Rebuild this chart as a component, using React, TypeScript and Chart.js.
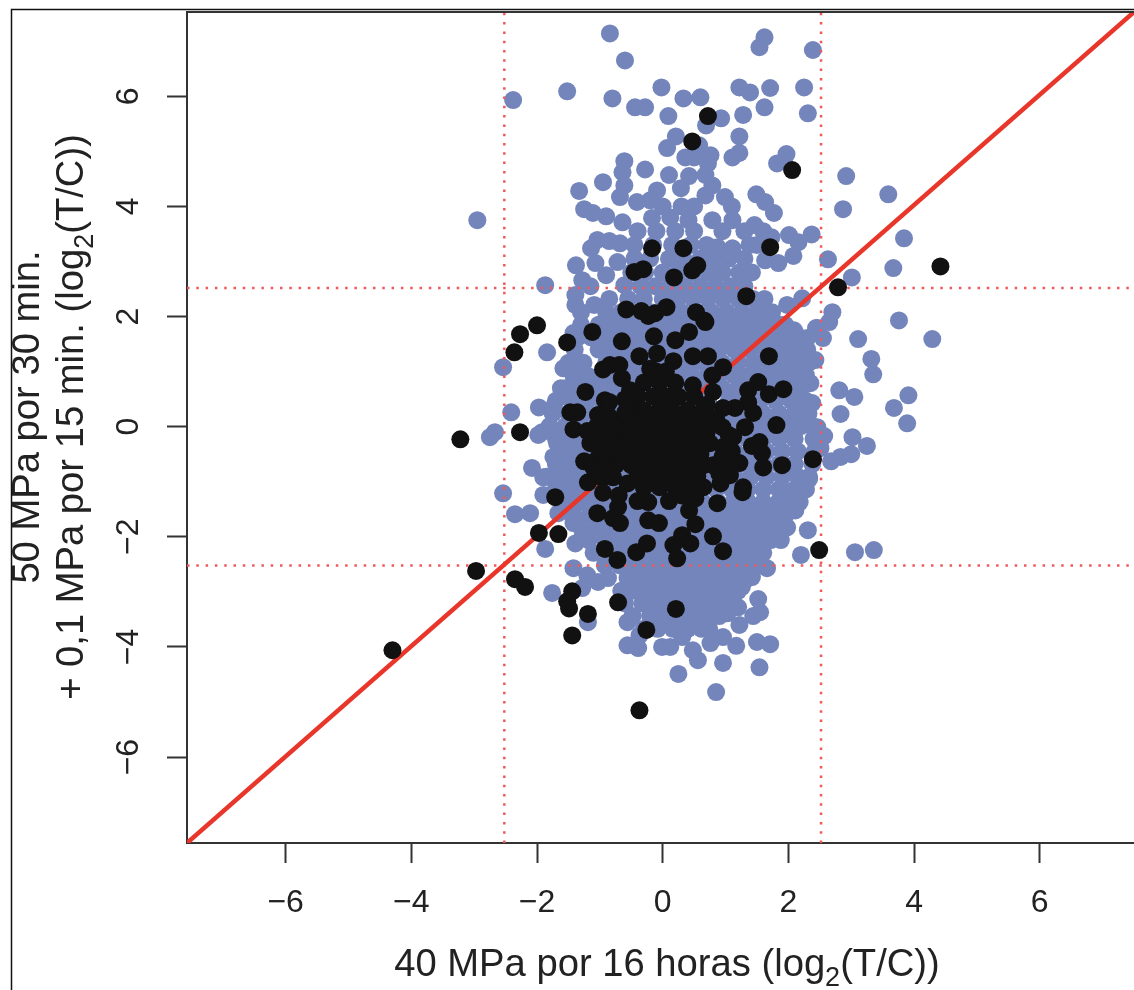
import React, { useEffect, useRef } from "react";
import { Chart, registerables } from "chart.js";

Chart.register(...registerables);

const xTickValues = [-6, -4, -2, 0, 2, 4, 6];
const yTickValues = [-6, -4, -2, 0, 2, 4, 6];
const xLimits = [-7.57, 7.5];
const yLimits = [-7.56, 7.53];
const cutoffLow = -2.52;
const cutoffHigh = 2.52;
const xTitleParts = ["40 MPa por 16 horas (log", "2", "(T/C))"];
const yTitleLine1 = ["50 MPa por 30 min."];
const yTitleLine2 = ["+ 0,1 MPa por 15 min. (log", "2", "(T/C))"];

// Blue genes: individually read points around the cloud
const blueScattered: [number, number][] = [
  [-0.84,7.14],[-0.6,6.65],[1.54,6.89],[1.62,7.07],[2.39,6.84],[-2.38,5.93],[-1.52,6.09],[-0.8,5.96],[-0.44,5.8],[-0.28,5.8],
  [-0.02,6.16],[0.33,5.96],[0.6,5.98],[0.09,5.64],[0.69,5.47],[0.93,5.6],[1.28,5.66],[1.62,5.8],[1.22,6.16],[1.39,6.07],
  [1.71,6.15],[2.25,6.16],[2.31,5.69],[0.21,5.27],[0.07,5.06],[0.58,5.11],[0.36,4.89],[0.5,4.89],[0.76,4.93],[0.72,4.78],
  [1.22,5.27],[1.22,4.97],[1.11,4.89],[1.97,4.95],[1.82,4.78],[-0.61,4.82],[-0.64,4.62],[-0.61,4.38],[-0.68,4.17],[-0.28,4.67],
  [-0.95,4.44],[-1.33,4.28],[0.1,4.57],[0.42,4.55],[0.68,4.57],[0.79,4.38],[-0.09,4.29],[0.29,4.33],[0.68,4.2],[0.99,4.17],
  [1.49,4.22],[1.63,4.08],[1.77,3.88],[-1.25,3.95],[-1.11,3.88],[-0.9,3.82],[-0.64,3.71],[-0.41,4.08],[-0.2,4.11],[-0.17,3.79],
  [0.12,3.8],[0.41,3.75],[0.79,3.75],[1.11,3.75],[1.46,3.66],[2.92,4.55],[3.59,4.22],[2.87,3.95],[3.84,3.42],[3.67,2.88],
  [3.01,2.71],[2.63,3.04],[2.37,3.49],[2.01,3.48],[2.16,3.35],[2.08,3.1],[1.84,2.97],[1.63,3.02],[1.73,3.44],[1.38,3.3],
  [0.87,3.26],[1.11,3.24],[-1.04,3.39],[-0.85,3.37],[-0.68,3.33],[-1.14,3.24],[-0.72,2.99],[-1.38,2.93],[-1.28,2.66],[-1.07,2.97],
  [-0.9,2.75],[-1.39,2.39],[-1.39,2.21],[-1.09,2.21],[-0.61,2.57],[2.7,2.08],[3.76,1.93],[2.65,1.9],[2.44,1.79],[2.09,1.75],
  [2.22,2.33],[1.98,2.21],[-1.87,2.57],[-2.95,3.75],[3.11,1.59],[4.29,1.59],[2.11,1.7],[2.3,1.61],[2.55,1.61],[2.46,1.79],
  [3.32,1.23],[3.35,0.95],[2.43,1.21],[2.11,1.35],[2.06,1.06],[2.35,0.79],[2.81,0.66],[3.05,0.54],[3.91,0.57],[3.68,0.34],
  [2.83,0.23],[3.89,0.06],[2.38,0.43],[2.08,0.52],[2.19,0.17],[2.46,-0.01],[2.57,-0.17],[3.02,-0.19],[3.25,-0.35],[3.0,-0.5],
  [2.83,-0.55],[2.68,-0.63],[2.51,-0.39],[2.33,-0.95],[2.09,-0.83],[1.95,-0.83],[1.9,-1.15],[2.11,-1.48],[1.84,-1.48],[1.84,-1.64],
  [-2.54,1.08],[-1.84,1.35],[-2.41,0.26],[-1.97,0.35],[-1.74,0.35],[-1.62,0.7],[-1.58,1.06],[-2.67,-0.1],[-2.75,-0.19],[-1.92,-0.1],
  [-1.98,-0.15],[-2.54,-1.21],[-2.08,-0.75],[-1.9,-0.92],[-1.9,-1.24],[-2.35,-1.59],[-2.11,-1.57],[-1.66,-1.57],[-1.42,1.7],[-1.68,-0.3],
  [-1.74,-0.55],[-1.42,-1.64],[-1.87,-2.22],[-1.42,-1.75],[-1.39,-2.12],[-1.28,-2.01],[-1.42,-2.57],[-1.76,-3.02],[-1.2,-2.7],[-1.03,-2.82],
  [-1.28,-2.93],[-0.87,-2.75],[-1.19,-3.55],[-0.56,-3.55],[-0.56,-3.97],[-0.39,-4.02],[-0.37,-3.79],[-0.01,-4.0],[0.12,-4.0],[0.31,-3.82],
  [0.48,-4.06],[0.56,-4.24],[0.25,-4.49],[0.85,-4.82],[0.96,-4.29],[0.76,-3.93],[0.96,-3.82],[1.17,-3.98],[1.22,-3.6],[1.5,-3.91],
  [1.71,-3.95],[1.54,-4.37],[1.03,-3.39],[1.2,-3.28],[1.52,-3.13],[1.55,-3.37],[1.44,-3.44],[0.96,-3.08],[1.26,-2.91],[1.42,-2.73],
  [1.66,-2.57],[2.2,-2.33],[2.31,-1.88],[3.06,-2.28],[3.36,-2.24],[1.84,-1.68],[2.11,-1.52],[1.68,-2.02],
];

// Blue genes: the dense body of the cloud, read row by row (y, then the x values)
const blueDenseY = [4.0,3.55,3.3,3.05,2.8,2.55,2.32,2.08,1.85,1.62,1.4,1.16,0.93,0.7,0.47,0.24,0.01,-0.22,-0.45,-0.68,-0.91,-1.14,-1.37,-1.6,-1.83,-2.06,-2.29,-2.52,-2.75,-2.98,-3.21,-3.44,-3.67];
const blueDenseX: number[][] = [
  [0.0,0.3,0.5,1.1],
  [-0.4,-0.1,0.2,0.5,0.95,1.3,1.6],
  [-0.45,-0.15,0.15,0.45,0.7,1.5],
  [-0.45,-0.2,0.1,0.33,0.6,0.82,1.05,1.3],
  [-0.5,-0.28,0.0,0.24,0.48,0.72,0.95,1.22,1.42],
  [-1.15,-0.35,-0.12,0.12,0.36,0.6,0.84,1.08,1.3],
  [-0.85,-0.55,-0.3,0.0,0.24,0.48,0.72,0.96,1.2,1.44,1.62],
  [-1.3,-0.9,-0.66,-0.42,-0.18,0.06,0.3,0.54,0.78,1.02,1.26,1.5,1.74],
  [-1.3,-1.02,-0.78,-0.54,-0.3,-0.06,0.18,0.42,0.66,0.9,1.14,1.38,1.62,1.86,1.95],
  [-1.35,-1.14,-0.9,-0.66,-0.42,-0.18,0.06,0.3,0.54,0.78,1.02,1.26,1.5,1.74,1.98,2.15],
  [-1.4,-1.02,-0.78,-0.54,-0.3,-0.06,0.18,0.42,0.66,0.9,1.14,1.38,1.62,1.86,2.1,2.3],
  [-1.5,-1.26,-0.9,-0.66,-0.42,-0.18,0.06,0.3,0.5,0.7,0.95,1.2,1.45,1.7,1.95,2.2,2.32],
  [-1.42,-1.2,-0.98,-0.74,-0.5,-0.26,-0.02,0.22,0.46,0.7,0.9,1.14,1.38,1.62,1.86,2.1,2.28],
  [-1.55,-1.3,-1.08,-0.84,-0.6,-0.36,-0.12,0.12,0.36,0.6,0.8,0.95,1.2,1.45,1.7,1.95,2.2],
  [-1.7,-1.45,-1.2,-0.96,-0.72,-0.48,-0.24,0,0.24,0.48,0.72,1.05,1.3,1.55,1.8,2.05,2.28],
  [-1.75,-1.5,-1.25,-1.0,-0.76,-0.52,-0.28,-0.04,0.2,0.44,0.68,0.9,1.1,1.35,1.6,1.85,2.1,2.32],
  [-1.8,-1.55,-1.3,-1.06,-0.82,-0.58,-0.34,-0.1,0.14,0.38,0.62,0.86,1.2,1.45,1.7,1.95,2.2,2.38],
  [-1.7,-1.45,-1.2,-0.96,-0.72,-0.48,-0.24,0,0.24,0.48,0.72,0.9,1.1,1.35,1.6,1.85,2.1,2.4],
  [-1.58,-1.35,-1.1,-0.86,-0.62,-0.38,-0.14,0.1,0.34,0.58,0.82,1.15,1.4,1.65,1.9,2.15,2.42],
  [-1.7,-1.45,-1.2,-0.96,-0.72,-0.48,-0.24,0,0.24,0.48,0.72,0.9,1.1,1.35,1.6,1.85,2.1,2.38],
  [-1.85,-1.6,-1.35,-1.1,-0.86,-0.62,-0.38,-0.14,0.1,0.34,0.58,0.82,1.15,1.4,1.65,1.9,2.15,2.33],
  [-1.7,-1.45,-1.2,-0.95,-0.7,-0.45,-0.2,0.05,0.3,0.6,0.85,1.1,1.35,1.6,1.85,2.1,2.28],
  [-1.5,-1.28,-1.04,-0.8,-0.56,-0.32,-0.08,0.16,0.4,0.64,0.88,1.12,1.36,1.6,1.84,2.08,2.18],
  [-1.42,-1.16,-0.92,-0.68,-0.44,-0.2,0.04,0.28,0.52,0.76,1.0,1.24,1.48,1.72,1.96],
  [-1.3,-1.04,-0.8,-0.56,-0.32,-0.08,0.16,0.4,0.64,0.88,1.12,1.36,1.6,1.84,1.98],
  [-1.18,-0.92,-0.68,-0.44,-0.2,0.04,0.28,0.52,0.76,1.0,1.24,1.48,1.72,1.88],
  [-1.1,-0.8,-0.56,-0.32,-0.08,0.16,0.4,0.64,0.88,1.12,1.36,1.6],
  [-0.92,-0.68,-0.44,-0.2,0.04,0.28,0.52,0.76,1.0,1.24,1.5],
  [-0.56,-0.32,-0.08,0.16,0.4,0.64,0.88,1.12,1.36],
  [-0.66,-0.44,-0.2,0.04,0.28,0.52,0.76,1.0,1.2],
  [-0.6,-0.32,-0.08,0.16,0.4,0.64,0.88,1.02],
  [-0.48,-0.2,0.04,0.28,0.52,0.76,0.9],
  [-0.3,-0.08,0.16,0.4,0.62,0.74],
];

// Black genes: individually read points
const blackScattered: [number, number][] = [
  [0.72,5.64],[0.47,5.18],[2.06,4.66],[1.71,3.26],[-0.17,3.24],[0.33,3.24],[-0.45,2.81],[-0.31,2.86],[0.18,2.71],[0.47,2.84],
  [0.55,2.93],[1.33,2.37],[2.79,2.53],[4.42,2.91],[-0.58,2.13],[-0.34,2.1],[-0.23,2.01],[-0.12,2.06],[0.06,2.17],[0.53,2.08],
  [0.66,1.93],[-2.27,1.68],[-2.0,1.84],[-2.36,1.35],[-1.52,1.53],[-1.12,1.72],[-0.65,1.55],[-0.14,1.64],[0.2,1.57],[0.42,1.72],
  [-0.37,1.28],[-0.09,1.33],[0.17,1.19],[-0.95,1.04],[-0.84,1.12],[-0.69,1.12],[-0.65,0.88],[-0.52,0.66],[-1.23,0.63],[-0.92,0.48],
  [-1.47,0.26],[-1.36,0.26],[-1.03,0.21],[-0.87,0.21],[-0.6,0.25],[-1.42,-0.05],[-1.2,-0.08],[-0.96,-0.15],[-3.22,-0.23],[-2.27,-0.1],
  [-1.25,-0.63],[-1.03,-0.57],[-1.19,-1.01],[-0.96,-0.93],[-1.71,-1.28],[-1.04,-1.57],[-0.71,-1.46],[-0.23,-1.37],[-0.79,-0.92],[-0.56,-1.03],
  [-0.47,-0.48],[1.69,1.28],[0.96,1.08],[0.72,1.28],[0.48,1.28],[0.68,1.9],[0.79,0.93],[1.52,0.81],[1.36,0.66],[1.69,0.59],
  [1.92,0.68],[1.36,0.44],[1.44,0.25],[1.15,0.34],[0.96,0.34],[0.8,0.63],[0.48,0.75],[1.81,0.03],[1.31,-0.01],[0.95,-0.01],
  [1.54,-0.28],[1.42,-0.35],[1.58,-0.48],[1.6,-0.74],[1.9,-0.7],[2.39,-0.59],[1.22,-0.66],[0.8,-0.7],[1.07,-0.88],[1.28,-1.1],
  [0.92,-1.03],[1.27,-1.19],[0.87,-1.39],[0.52,-1.3],[0.42,-1.52],[1.12,-0.19],[0.96,-0.37],[-0.79,-1.66],[-0.68,-1.75],[-0.23,-1.7],
  [-0.06,-1.75],[0.31,-1.97],[0.44,-2.12],[0.52,-1.77],[0.8,-1.99],[0.96,-2.26],[0.17,-2.15],[0.23,-2.39],[-0.25,-2.12],[-0.42,-2.28],
  [-0.92,-2.22],[-0.72,-2.42],[-1.97,-1.93],[-1.66,-1.95],[-2.97,-2.62],[-2.35,-2.77],[-2.19,-2.91],[-1.44,-2.99],[-1.52,-3.17],[-1.49,-3.3],
  [-1.19,-3.4],[-1.44,-3.79],[-0.71,-3.19],[0.21,-3.31],[-0.26,-3.69],[-0.37,-5.15],[2.49,-2.24],[-4.3,-4.06],
  [-1.0,-0.3],[-0.95,-0.45],[-1.1,-0.75],[-0.9,-0.75],[-1.15,-0.3],[0.95,-0.55],[1.1,-0.45],[1.05,-0.15],[0.9,-0.85],[1.1,-0.65],
  [-1.05,0.0],[-0.8,0.0],[-0.85,0.45],[-0.6,0.5],[0.7,0.4],[0.85,0.15],[-0.95,-1.2],[-0.7,-1.25],[-0.4,-1.35],[0.1,-1.35],
  [0.3,-1.25],[0.65,-1.1],[-0.2,1.05],
];

// Black genes: the dense centre, read row by row
const blackDenseY = [1.0,0.8,0.55,0.3,0.1,-0.1,-0.3,-0.5,-0.7,-0.9,-1.1];
const blackDenseX: number[][] = [
  [-0.1,0.05],
  [-0.3,-0.05,0.2],
  [-0.4,-0.15,0.05,0.25,0.5],
  [-0.5,-0.3,-0.05,0.15,0.4,0.65],
  [-0.75,-0.55,-0.35,-0.1,0.1,0.35,0.55,0.8],
  [-0.8,-0.6,-0.4,-0.2,0.05,0.25,0.45,0.7],
  [-0.75,-0.55,-0.35,-0.15,0.1,0.3,0.5,0.75],
  [-0.8,-0.6,-0.35,-0.1,0.15,0.35,0.6],
  [-0.75,-0.5,-0.3,-0.05,0.2,0.45,0.65],
  [-0.4,-0.15,0.1,0.3,0.55],
  [-0.3,-0.05,0.2,0.4],
];

const TEXT = "#222222";
const BLUE = "#7485BC";
const BLACK = "#111111";
const RED = "#E8372A";
const DOT = "#EE5A5A";
const FONT = '"Liberation Sans", Arial, sans-serif';

const toPoints = (list: [number, number][]) => list.map(([x, y]) => ({ x, y }));
const rowsToPoints = (ys: number[], xs: number[][]) =>
  ys.flatMap((y, i) => xs[i].map((x) => ({ x, y })));
const tickText = (v: number | string) => String(v).replace("-", "\u2212");

function drawParts(ctx: CanvasRenderingContext2D, parts: string[], cx: number, y: number, size: number, subSize: number, subDrop: number) {
  const widths = parts.map((p, i) => {
    ctx.font = `${i === 1 ? subSize : size}px ${FONT}`;
    return ctx.measureText(p).width;
  });
  let x = cx - widths.reduce((a, b) => a + b, 0) / 2;
  parts.forEach((p, i) => {
    ctx.font = `${i === 1 ? subSize : size}px ${FONT}`;
    ctx.fillText(p, x, i === 1 ? y + subDrop : y);
    x += widths[i];
  });
}

const decorations = {
  id: "decorations",
  afterDraw(chart: any) {
    const { ctx, chartArea } = chart;
    ctx.save();
    ctx.strokeStyle = "#111111";
    ctx.lineWidth = 1.5;
    ctx.beginPath();
    ctx.moveTo(11.5, 990);
    ctx.lineTo(11.5, 9.5);
    ctx.lineTo(1134, 9.5);
    ctx.stroke();
    ctx.lineWidth = 2;
    ctx.strokeStyle = "#333333";
    ctx.beginPath();
    ctx.moveTo(chartArea.left, chartArea.top);
    ctx.lineTo(chartArea.right, chartArea.top);
    ctx.stroke();

    ctx.fillStyle = TEXT;
    ctx.textAlign = "left";
    ctx.textBaseline = "alphabetic";
    drawParts(ctx, xTitleParts, 667, 976, 38.2, 27, 10);
    ctx.rotate(-Math.PI / 2);
    drawParts(ctx, yTitleLine1, -417, 39, 38.2, 27, 10);
    drawParts(ctx, yTitleLine2, -417, 83, 38.2, 27, 10);
    ctx.restore();
  },
};

export default function App() {
  const ref = useRef<HTMLCanvasElement>(null);
  useEffect(() => {
    const chart = new Chart(ref.current!, {
      type: "scatter",
      data: {
        datasets: [
          {
            label: "blue",
            data: [...rowsToPoints(blueDenseY, blueDenseX), ...toPoints(blueScattered)],
            backgroundColor: BLUE,
            borderWidth: 0,
            pointRadius: 9,
            order: 4,
          },
          ...[
            [{ x: cutoffLow, y: yLimits[0] }, { x: cutoffLow, y: yLimits[1] }],
            [{ x: cutoffHigh, y: yLimits[0] }, { x: cutoffHigh, y: yLimits[1] }],
            [{ x: xLimits[0], y: cutoffLow }, { x: xLimits[1], y: cutoffLow }],
            [{ x: xLimits[0], y: cutoffHigh }, { x: xLimits[1], y: cutoffHigh }],
          ].map((data, i) => ({
            label: `cutoff ${i}`,
            data,
            showLine: true,
            borderColor: DOT,
            borderWidth: 2.5,
            borderDash: [2.5, 6.8],
            pointRadius: 0,
            order: 3,
          })),
          {
            label: "identity",
            data: [{ x: xLimits[0], y: yLimits[0] }, { x: xLimits[1], y: yLimits[1] }],
            showLine: true,
            borderColor: RED,
            borderWidth: 4.5,
            pointRadius: 0,
            order: 2,
          },
          {
            label: "black",
            data: [...rowsToPoints(blackDenseY, blackDenseX), ...toPoints(blackScattered)],
            backgroundColor: BLACK,
            borderWidth: 0,
            pointRadius: 9,
            order: 1,
          },
        ],
      },
      options: {
        animation: false,
        responsive: false,
        layout: { autoPadding: false, padding: { top: 12, right: 0, left: 0, bottom: 0 } },
        plugins: { legend: { display: false }, tooltip: { enabled: false } },
        scales: {
          x: {
            type: "linear",
            min: xLimits[0],
            max: xLimits[1],
            afterBuildTicks: (s: any) => { s.ticks = xTickValues.map((value) => ({ value })); },
            afterFit: (s: any) => { s.height = 147; s.paddingLeft = 0; s.paddingRight = 0; },
            grid: { drawOnChartArea: false, drawTicks: true, tickLength: 20, tickColor: "#333333", tickWidth: 2 },
            border: { display: true, color: "#333333", width: 2 },
            ticks: { autoSkip: false, maxRotation: 0, padding: 21, color: TEXT, font: { family: FONT, size: 32 }, callback: tickText },
          },
          y: {
            type: "linear",
            min: yLimits[0],
            max: yLimits[1],
            afterBuildTicks: (s: any) => { s.ticks = yTickValues.map((value) => ({ value })); },
            afterFit: (s: any) => { s.width = 187; s.paddingTop = 0; s.paddingBottom = 0; },
            grid: { drawOnChartArea: false, drawTicks: true, tickLength: 20, tickColor: "#333333", tickWidth: 2 },
            border: { display: true, color: "#333333", width: 2 },
            ticks: { autoSkip: false, minRotation: 90, maxRotation: 90, crossAlign: "center", padding: 20, color: TEXT, font: { family: FONT, size: 32 }, callback: tickText },
          },
        },
      },
      plugins: [decorations],
    } as any);
    return () => chart.destroy();
  }, []);
  return (
    <div style={{ position: "absolute", left: 0, top: 0, width: 1134, height: 990, overflow: "hidden", background: "#fff" }}>
      <canvas ref={ref} width={1134} height={990} style={{ display: "block" }} />
    </div>
  );
}
